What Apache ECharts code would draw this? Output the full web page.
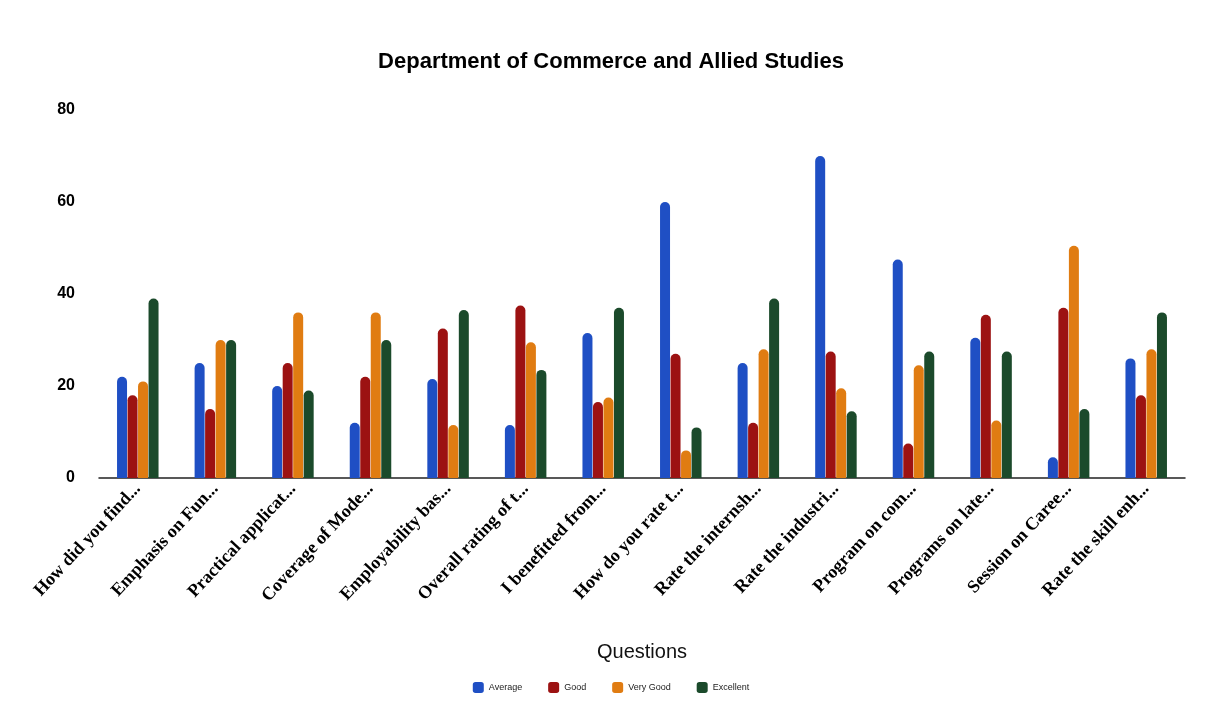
<!DOCTYPE html>
<html><head><meta charset="utf-8">
<script src="https://cdn.jsdelivr.net/npm/echarts@6/dist/echarts.min.js"></script>
<style>html,body{margin:0;padding:0;background:#fff}#c{width:1222px;height:724px}</style>
</head><body><div id="c"></div>
<script>
const categories = ["How did you find...","Emphasis on Fun...","Practical applicat...","Coverage of Mode...","Employability bas...","Overall rating of t...","I benefitted from...","How do you rate t...","Rate the internsh...","Rate the industri...","Program on com...","Programs on late...","Session on Caree...","Rate the skill enh..."];
const seriesNames = ["Average","Good","Very Good","Excellent"];
const average   = [22, 25, 20, 12, 21.5, 11.5, 31.5, 60, 25, 70, 47.5, 30.5, 4.5, 26];
const good      = [18, 15, 25, 22, 32.5, 37.5, 16.5, 27, 12, 27.5, 7.5, 35.5, 37, 18];
const veryGood  = [21, 30, 36, 36, 11.5, 29.5, 17.5, 6, 28, 19.5, 24.5, 12.5, 50.5, 28];
const excellent = [39, 30, 19, 30, 36.5, 23.5, 37, 11, 39, 14.5, 27.5, 27.5, 15, 36];
const yTicks = [0, 20, 40, 60, 80];
const colors = ["#1f4fc4", "#9c1212", "#e07c12", "#1b4a2b"];

const chart = echarts.init(document.getElementById('c'));
const mk = (name, data, i) => ({
  name, type: 'bar', data, barWidth: 10, barGap: '5%',
  itemStyle: { color: colors[i], borderRadius: [5,5,0,0] }
});
chart.setOption({
  animation: false,
  title: { text: 'Department of Commerce and Allied Studies', left: 'center', top: 46,
    textStyle: { fontFamily: 'Liberation Sans', fontWeight: 'bold', fontSize: 22, color: '#000' } },
  legend: { data: seriesNames, bottom: 26, left: 'center', itemWidth: 11, itemHeight: 11, itemGap: 26,
    icon: 'roundRect', textStyle: { fontSize: 9, color: '#222', fontFamily: 'Liberation Sans' } },
  grid: { left: 99, right: 37, top: 110, bottom: 246 },
  xAxis: {
    type: 'category', data: categories,
    name: 'Questions', nameLocation: 'middle', nameGap: 164,
    nameTextStyle: { fontFamily: 'Liberation Sans', fontSize: 20, color: '#111' },
    axisLine: { lineStyle: { color: '#222', width: 1.5 } },
    axisTick: { show: false },
    axisLabel: { rotate: 47, interval: 0, margin: 8, fontFamily: 'Liberation Serif', fontWeight: 'bold', fontSize: 18, color: '#000' }
  },
  yAxis: {
    type: 'value', min: yTicks[0], max: yTicks[yTicks.length-1], interval: 20,
    splitLine: { show: false }, axisLine: { show: false }, axisTick: { show: false },
    axisLabel: { margin: 24, fontFamily: 'Liberation Sans', fontWeight: 'bold', fontSize: 16, color: '#000' }
  },
  series: [mk(seriesNames[0], average, 0), mk(seriesNames[1], good, 1), mk(seriesNames[2], veryGood, 2), mk(seriesNames[3], excellent, 3)]
});
</script></body></html>
